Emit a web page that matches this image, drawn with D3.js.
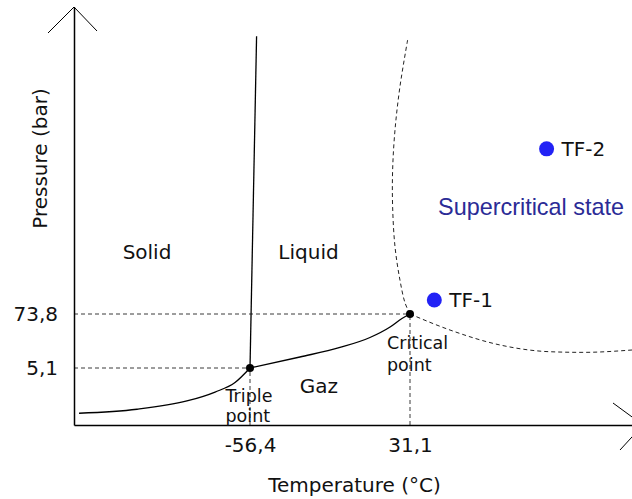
<!DOCTYPE html>
<html>
<head>
<meta charset="utf-8">
<script src="https://cdn.jsdelivr.net/npm/d3@7"></script>
<style>
  html, body { margin: 0; padding: 0; background: #fff; }
  svg { display: block; }
  text { font-family: "DejaVu Sans", Verdana, sans-serif; fill: #111; }
</style>
</head>
<body>
<svg id="chart" width="632" height="499"></svg>
<script>
// Schematic CO2 phase diagram (temperature in °C, pressure in bar).
const temperatureTicks = [-56.4, 31.1];
const pressureTicks = [5.1, 73.8];

const triplePoint = [-56.4, 5.1];
const criticalPoint = [31.1, 73.8];

// Solid / gas boundary (sublimation curve)
const sublimationCurve = [
  [-149.9, 1.05], [-118.2, 1.41], [-90.9, 2.15], [-75.5, 2.95],
  [-64.6, 3.80], [-56.4, 5.1]
];
// Liquid / gas boundary (vaporisation curve)
const vaporisationCurve = [
  [-56.4, 5.1], [-29.1, 19.1], [-7.2, 31.2], [9.2, 43.9],
  [20.2, 57.3], [26.7, 68.1], [31.1, 73.8]
];
// Solid / liquid boundary (melting line)
const meltingLine = [[-56.4, 5.1], [-52.8, 912]];

// Limit of the supercritical domain, above and to the right of the critical point
const supercriticalUpper = [
  [31.1, 73.8], [28.4, 107.0], [25.6, 176.4], [22.9, 276.8], [21.6, 397.5],
  [21.6, 508.2], [22.9, 629.2], [25.6, 759.6], [29.8, 900.5]
];
const supercriticalLower = [
  [31.1, 73.8], [53.0, 53.4], [80.3, 34.4], [107.7, 25.8], [125.7, 25.0], [152.5, 28.0]
];

// Operating points
const operatingPoints = [
  { name: "TF-1", t: 44.4, p: 116 },
  { name: "TF-2", t: 105.8, p: 572 }
];

const svg = d3.select("#chart");

// Temperature axis: linear, extended to the frame of the drawing
const x = d3.scaleLinear().domain(temperatureTicks).range([250, 410]);
x.domain([x.invert(74), x.invert(643)]).range([74, 643]);

// Pressure axis: schematic, piecewise-linear
const y = d3.scaleLinear()
  .domain([0, pressureTicks[0], pressureTicks[1], 1000])
  .range([425, 368, 314, 7]);
const yBottom = y.range()[0];
const yTop = y.range()[y.range().length - 1];

const locale = d3.formatLocale({ decimal: ",", thousands: " ", grouping: [3], currency: ["", " €"], minus: "-" });
const fmt = locale.format(".1f");

const line = d3.line().x(d => x(d[0])).y(d => y(d[1]));
const smoothX = d3.line().x(d => x(d[0])).y(d => y(d[1])).curve(d3.curveMonotoneX);
const smoothY = d3.line().x(d => x(d[0])).y(d => y(d[1])).curve(d3.curveCatmullRom.alpha(0.5));

// Reference lines for the triple and critical points
const guides = svg.append("g")
  .attr("fill", "none")
  .attr("stroke", "#3a3a3a")
  .attr("stroke-width", 1)
  .attr("stroke-dasharray", "4,3");
[triplePoint, criticalPoint].forEach(pt => {
  guides.append("path").attr("d", line([[x.domain()[0], pt[1]], pt]));
  guides.append("path").attr("d", line([[pt[0], y.domain()[0]], pt]));
});

// Supercritical limit
const scGroup = svg.append("g")
  .attr("fill", "none")
  .attr("stroke", "#222")
  .attr("stroke-width", 1)
  .attr("stroke-dasharray", "4,3");
scGroup.append("path").attr("d", smoothY(supercriticalUpper));
scGroup.append("path").attr("d", smoothX(supercriticalLower));

// Phase boundaries
const curves = svg.append("g")
  .attr("fill", "none")
  .attr("stroke", "#000")
  .attr("stroke-width", 1.3);
curves.append("path").attr("d", smoothX(sublimationCurve));
curves.append("path").attr("d", smoothX(vaporisationCurve));
curves.append("path").attr("d", line(meltingLine));

// Axes
const yAxis = svg.append("g")
  .attr("transform", `translate(${x.range()[0]},0)`)
  .call(d3.axisLeft(y).tickValues(pressureTicks).tickSize(0).tickSizeOuter(0).tickPadding(16).tickFormat(fmt));
const xAxis = svg.append("g")
  .attr("transform", `translate(0,${yBottom})`)
  .call(d3.axisBottom(x).tickValues(temperatureTicks).tickSize(0).tickSizeOuter(0).tickPadding(13).tickFormat(fmt));
[yAxis, xAxis].forEach(g => {
  g.select(".domain").attr("stroke", "#000").attr("stroke-width", 1.5);
  g.selectAll("text").attr("font-family", "DejaVu Sans, Verdana, sans-serif").attr("font-size", 20).attr("fill", "#111");
});

// Arrow heads
const arrows = svg.append("g").attr("fill", "none").attr("stroke", "#000").attr("stroke-width", 1);
const yTip = [x.range()[0], yTop];
arrows.append("path").attr("d", `M${yTip[0] - 26},${yTip[1] + 26}L${yTip[0]},${yTip[1]}L${yTip[0] + 23},${yTip[1] + 24}`);
const xTip = [x.range()[1], yBottom];
arrows.append("path").attr("d", `M${xTip[0] - 30},${xTip[1] - 22}L${xTip[0]},${xTip[1]}L${xTip[0] - 23},${xTip[1] + 25}`);

// Triple and critical points
svg.append("g").selectAll("circle")
  .data([triplePoint, criticalPoint])
  .join("circle")
  .attr("cx", d => x(d[0]))
  .attr("cy", d => y(d[1]))
  .attr("r", 4)
  .attr("fill", "#000");

// Operating points
const op = svg.append("g").selectAll("g")
  .data(operatingPoints)
  .join("g")
  .attr("transform", d => `translate(${x(d.t)},${y(d.p)})`);
op.append("circle").attr("r", 7.5).attr("fill", "#2222f5");
op.append("text").attr("x", 15).attr("y", 7).attr("font-size", 20).text(d => d.name);

// Point labels
const tp = svg.append("text").attr("font-size", 17.5)
  .attr("transform", `translate(${x(triplePoint[0]) - 24.5},${y(triplePoint[1])})`);
tp.append("tspan").attr("x", 0).attr("y", 33.5).text("Triple");
tp.append("tspan").attr("x", 0).attr("y", 53.5).text("point");
const cp = svg.append("text").attr("font-size", 17.5)
  .attr("transform", `translate(${x(criticalPoint[0]) - 23},${y(criticalPoint[1])})`);
cp.append("tspan").attr("x", 0).attr("y", 35).text("Critical");
cp.append("tspan").attr("x", 0).attr("y", 57).text("point");

// Phase regions
svg.append("text").attr("x", 147).attr("y", 259).attr("font-size", 20).attr("text-anchor", "middle").text("Solid");
svg.append("text").attr("x", 308.5).attr("y", 259).attr("font-size", 20).attr("text-anchor", "middle").text("Liquid");
svg.append("text").attr("x", 319).attr("y", 393).attr("font-size", 20).attr("text-anchor", "middle").text("Gaz");
svg.append("text").attr("x", 531).attr("y", 214.5).attr("font-size", 23.4)
  .attr("text-anchor", "middle")
  .style("font-family", "'Liberation Sans', Arial, sans-serif")
  .style("fill", "#2b2b96")
  .text("Supercritical state");

// Axis titles
svg.append("text").attr("x", 354.5).attr("y", 492).attr("font-size", 20).attr("text-anchor", "middle").text("Temperature (°C)");
svg.append("text").attr("transform", "translate(46.5,158.5) rotate(-90)")
  .attr("font-size", 20).attr("text-anchor", "middle").text("Pressure (bar)");
</script>
</body>
</html>
